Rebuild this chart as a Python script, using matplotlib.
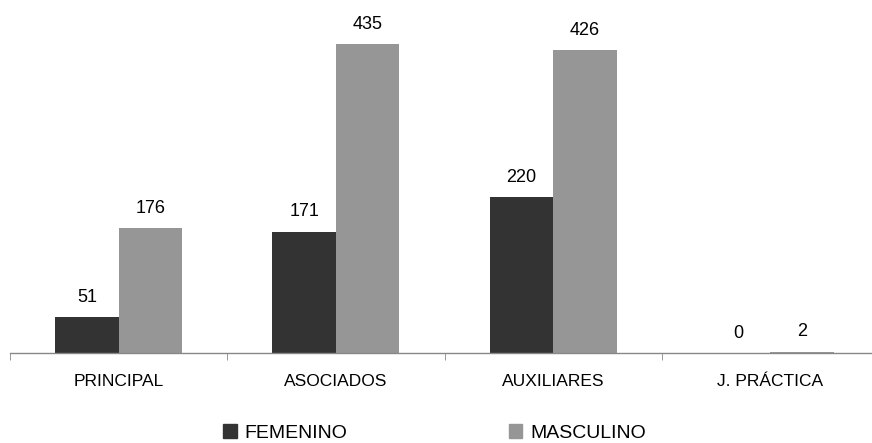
import matplotlib.pyplot as plt
from matplotlib.patches import Patch

plt.rcParams['font.family'] = ['Liberation Sans', 'DejaVu Sans']

categories = ['PRINCIPAL', 'ASOCIADOS', 'AUXILIARES', 'J. PRÁCTICA']
femenino = [51, 171, 220, 0]
masculino = [176, 435, 426, 2]

dark = '#333333'
gray = '#969696'

fig = plt.figure(figsize=(8.72, 4.43), dpi=100)
ax = fig.add_axes([10 / 872, 90 / 443, 869 / 872, 353 / 443])

x = range(len(categories))
w = 0.292
b1 = ax.bar([i - w / 2 for i in x], femenino, w, color=dark, label='FEMENINO')
b2 = ax.bar([i + w / 2 for i in x], masculino, w, color=gray, label='MASCULINO')

for bars, vals in ((b1, femenino), (b2, masculino)):
    for r, v in zip(bars, vals):
        ax.annotate(str(v), (r.get_x() + r.get_width() / 2, v),
                    xytext=(0, 8), textcoords='offset points',
                    ha='center', va='bottom', fontsize=13)

ax.set_xlim(-0.5, 3.5)
ax.set_ylim(0, 497)

for s in ('top', 'right', 'left'):
    ax.spines[s].set_visible(False)
ax.spines['bottom'].set_color('#888888')
ax.spines['bottom'].set_linewidth(1)
ax.set_yticks([])

ax.set_xticks(list(x))
ax.set_xticklabels(categories, fontsize=12.5)
ax.tick_params(axis='x', which='major', length=0, pad=15)
ax.set_xticks([-0.5, 0.5, 1.5, 2.5], minor=True)
ax.tick_params(axis='x', which='minor', length=5, color='#888888', direction='out')

handles = [Patch(color=dark, label='FEMENINO'), Patch(color=gray, label='MASCULINO')]
fig.legend(handles=handles, loc='center left', bbox_to_anchor=(223 / 872, 1 - 433 / 443),
           ncol=2, frameon=False, fontsize=14, handlelength=0.7, handleheight=0.7,
           handletextpad=0.4, columnspacing=8.3, borderpad=0, borderaxespad=0)

fig.savefig('out.png', dpi=100)
